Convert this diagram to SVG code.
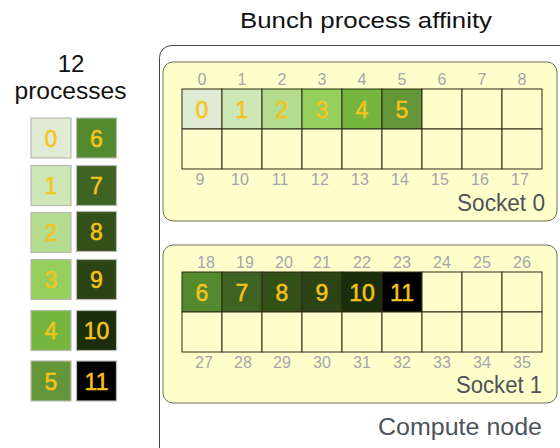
<svg xmlns="http://www.w3.org/2000/svg" width="560" height="448" viewBox="0 0 560 448">
<style>
text{font-family:"Liberation Sans",Arial,sans-serif}
.title{font-size:22px;fill:#111}
.lbl{font-size:23px;fill:#4d5358}
.core{font-size:16px;fill:#a2a6aa;text-anchor:middle}
.pn{font-size:23px;fill:#f7c31c;stroke:#f7c31c;stroke-width:0.5;text-anchor:middle}
.cell{stroke:#2b2b12;stroke-width:1}
.empty{fill:#ffffcc}
.sock{fill:#ffffcc;stroke:#6e6e5a;stroke-width:1}
.lb{stroke:#b8bab4;stroke-width:1.2}
.c0{fill:#e0ebd3}.c1{fill:#cde7b7}.c2{fill:#b3dc8e}.c3{fill:#95d05c}.c4{fill:#76b63e}.c5{fill:#629636}
.c6{fill:#548a2e}.c7{fill:#3f6322}.c8{fill:#325018}.c9{fill:#2c4316}.c10{fill:#1b2e0c}.c11{fill:#000000}
</style>
<rect width="560" height="448" fill="#ffffff"/>
<text class="title" x="366" y="28" text-anchor="middle" textLength="252" lengthAdjust="spacingAndGlyphs">Bunch process affinity</text>
<text x="71" y="72" font-size="24" fill="#111" text-anchor="middle">12</text>
<text x="70.5" y="99" font-size="24" fill="#111" text-anchor="middle" textLength="112" lengthAdjust="spacingAndGlyphs">processes</text>
<g id="legend">
<g id="p0"><rect class="c0 lb" x="31" y="118" width="40" height="40"/><text class="pn" x="51" y="146.5">0</text></g>
<g id="p1"><rect class="c1 lb" x="31" y="165.5" width="40" height="40"/><text class="pn" x="51" y="194">1</text></g>
<g id="p2"><rect class="c2 lb" x="31" y="212.5" width="40" height="40"/><text class="pn" x="51" y="241">2</text></g>
<g id="p3"><rect class="c3 lb" x="31" y="259.5" width="40" height="40"/><text class="pn" x="51" y="288">3</text></g>
<g id="p4"><rect class="c4 lb" x="31" y="310.5" width="40" height="40"/><text class="pn" x="51" y="339">4</text></g>
<g id="p5"><rect class="c5 lb" x="31" y="361" width="40" height="40"/><text class="pn" x="51" y="389.5">5</text></g>
<g id="p6"><rect class="c6 lb" x="76.5" y="118" width="40" height="40"/><text class="pn" x="96.5" y="146.5">6</text></g>
<g id="p7"><rect class="c7 lb" x="76.5" y="165.5" width="40" height="40"/><text class="pn" x="96.5" y="194">7</text></g>
<g id="p8"><rect class="c8 lb" x="76.5" y="211.5" width="40" height="40"/><text class="pn" x="96.5" y="240">8</text></g>
<g id="p9"><rect class="c9 lb" x="76.5" y="259.5" width="40" height="40"/><text class="pn" x="96.5" y="288">9</text></g>
<g id="p10"><rect class="c10 lb" x="76.5" y="310.5" width="40" height="40"/><text class="pn" x="96.5" y="339">10</text></g>
<g id="p11"><rect class="c11 lb" x="76.5" y="361" width="40" height="40"/><text class="pn" x="96.5" y="389.5">11</text></g>
</g>
<g id="compute-node">
<rect x="159.5" y="45.5" width="430" height="430" rx="12" fill="#ffffff" stroke="#444" stroke-width="1"/>
<text class="lbl" x="542" y="435" text-anchor="end" textLength="164" lengthAdjust="spacingAndGlyphs" font-size="24">Compute node</text>
</g>
<g id="socket0">
<rect class="sock" x="163" y="62" width="394" height="159" rx="10"/>
<g class="cell">
<rect class="c0" x="182" y="89" width="40" height="40"/>
<rect class="c1" x="222" y="89" width="40" height="40"/>
<rect class="c2" x="262" y="89" width="40" height="40"/>
<rect class="c3" x="302" y="89" width="40" height="40"/>
<rect class="c4" x="342" y="89" width="40" height="40"/>
<rect class="c5" x="382" y="89" width="40" height="40"/>
<rect class="empty" x="422" y="89" width="40" height="40"/>
<rect class="empty" x="462" y="89" width="40" height="40"/>
<rect class="empty" x="502" y="89" width="40" height="40"/>
<rect class="empty" x="182" y="129" width="40" height="40"/>
<rect class="empty" x="222" y="129" width="40" height="40"/>
<rect class="empty" x="262" y="129" width="40" height="40"/>
<rect class="empty" x="302" y="129" width="40" height="40"/>
<rect class="empty" x="342" y="129" width="40" height="40"/>
<rect class="empty" x="382" y="129" width="40" height="40"/>
<rect class="empty" x="422" y="129" width="40" height="40"/>
<rect class="empty" x="462" y="129" width="40" height="40"/>
<rect class="empty" x="502" y="129" width="40" height="40"/>
</g>
<text class="pn" x="202" y="118">0</text>
<text class="pn" x="242" y="118">1</text>
<text class="pn" x="282" y="118">2</text>
<text class="pn" x="322" y="118">3</text>
<text class="pn" x="362" y="118">4</text>
<text class="pn" x="402" y="118">5</text>
<text class="core" x="202" y="85">0</text>
<text class="core" x="242" y="85">1</text>
<text class="core" x="282" y="85">2</text>
<text class="core" x="322" y="85">3</text>
<text class="core" x="362" y="85">4</text>
<text class="core" x="402" y="85">5</text>
<text class="core" x="442" y="85">6</text>
<text class="core" x="482" y="85">7</text>
<text class="core" x="522" y="85">8</text>
<text class="core" x="200" y="185">9</text>
<text class="core" x="240" y="185">10</text>
<text class="core" x="280" y="185">11</text>
<text class="core" x="320" y="185">12</text>
<text class="core" x="360" y="185">13</text>
<text class="core" x="400" y="185">14</text>
<text class="core" x="440" y="185">15</text>
<text class="core" x="480" y="185">16</text>
<text class="core" x="520" y="185">17</text>
<text class="lbl" x="545" y="211" text-anchor="end" textLength="88" lengthAdjust="spacingAndGlyphs">Socket 0</text>
</g>
<g id="socket1">
<rect class="sock" x="163" y="245" width="394" height="158" rx="10"/>
<g class="cell">
<rect class="c6" x="182" y="272" width="40" height="40"/>
<rect class="c7" x="222" y="272" width="40" height="40"/>
<rect class="c8" x="262" y="272" width="40" height="40"/>
<rect class="c9" x="302" y="272" width="40" height="40"/>
<rect class="c10" x="342" y="272" width="40" height="40"/>
<rect class="c11" x="382" y="272" width="40" height="40"/>
<rect class="empty" x="422" y="272" width="40" height="40"/>
<rect class="empty" x="462" y="272" width="40" height="40"/>
<rect class="empty" x="502" y="272" width="40" height="40"/>
<rect class="empty" x="182" y="312" width="40" height="40"/>
<rect class="empty" x="222" y="312" width="40" height="40"/>
<rect class="empty" x="262" y="312" width="40" height="40"/>
<rect class="empty" x="302" y="312" width="40" height="40"/>
<rect class="empty" x="342" y="312" width="40" height="40"/>
<rect class="empty" x="382" y="312" width="40" height="40"/>
<rect class="empty" x="422" y="312" width="40" height="40"/>
<rect class="empty" x="462" y="312" width="40" height="40"/>
<rect class="empty" x="502" y="312" width="40" height="40"/>
</g>
<text class="pn" x="202" y="301">6</text>
<text class="pn" x="242" y="301">7</text>
<text class="pn" x="282" y="301">8</text>
<text class="pn" x="322" y="301">9</text>
<text class="pn" x="362" y="301">10</text>
<text class="pn" x="402" y="301">11</text>
<text class="core" x="206" y="268">18</text>
<text class="core" x="245" y="268">19</text>
<text class="core" x="284" y="268">20</text>
<text class="core" x="322" y="268">21</text>
<text class="core" x="362" y="268">22</text>
<text class="core" x="402" y="268">23</text>
<text class="core" x="442" y="268">24</text>
<text class="core" x="482" y="268">25</text>
<text class="core" x="522" y="268">26</text>
<text class="core" x="204" y="368">27</text>
<text class="core" x="243" y="368">28</text>
<text class="core" x="282" y="368">29</text>
<text class="core" x="322" y="368">30</text>
<text class="core" x="362" y="368">31</text>
<text class="core" x="402" y="368">32</text>
<text class="core" x="442" y="368">33</text>
<text class="core" x="482" y="368">34</text>
<text class="core" x="522" y="368">35</text>
<text class="lbl" x="542" y="393" text-anchor="end" textLength="86" lengthAdjust="spacingAndGlyphs">Socket 1</text>
</g>
</svg>
